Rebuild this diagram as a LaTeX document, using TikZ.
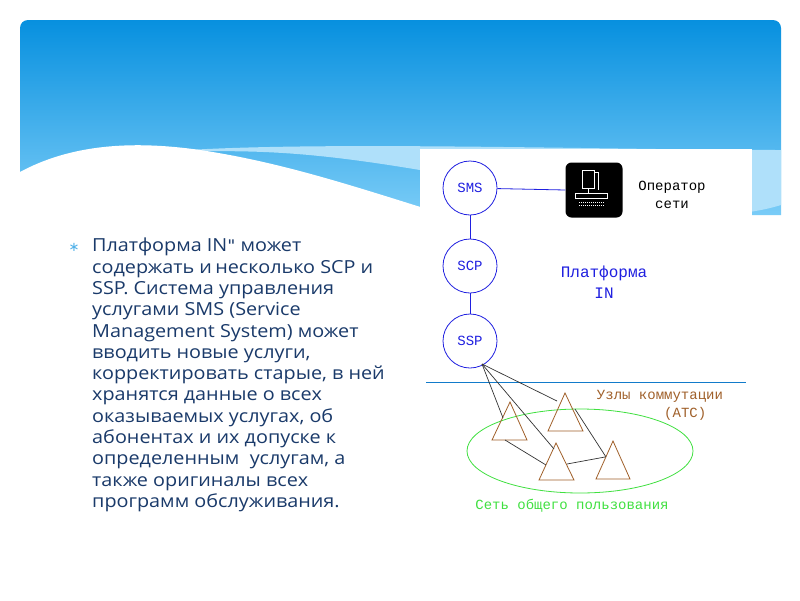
\documentclass[tikz,border=0pt]{standalone}
\usepackage{fontspec}
\setmainfont{Open Sans}
\newfontfamily\monof{Liberation Mono}
\newfontfamily\dejavu{DejaVu Sans}
\usetikzlibrary{calc}
\definecolor{navy}{HTML}{1A3A6A}
\definecolor{topb}{HTML}{0790DF}
\definecolor{botb}{HTML}{7ACCF7}
\definecolor{netblue}{HTML}{2020E0}
\definecolor{brownc}{HTML}{A0602A}
\definecolor{greenc}{HTML}{40E040}
\tikzset{
  el/.style={circle,draw=netblue,thick,minimum size=54pt,inner sep=0pt,font=\monof\fontsize{14}{14}\selectfont,text=netblue},
  tri/.style={draw=brownc,thick},
  wire/.style={draw=black!80,line width=0.7pt},
  mono/.style={font=\monof\fontsize{14}{18}\selectfont,align=center}
}
\begin{document}
\begin{tikzpicture}[x=1pt,y=-1pt]
\useasboundingbox (0,0) rectangle (800,600);
\fill[white] (0,0) rectangle (800,600);
% header
\shade[top color=topb,bottom color=botb] (20,28) [rounded corners=8pt] -- (20,20) -- (781,20) [sharp corners] -- (781,215) -- (20,215) -- cycle;
\fill[botb!60!white] (160,152) .. controls (300,140) and (600,150) .. (781,150) -- (781,205) .. controls (700,230) and (600,200) .. (420,170) .. controls (300,150) and (250,150) .. (160,152) -- cycle;
\fill[white] (20,172) .. controls (70,145) and (130,140) .. (200,150) .. controls (280,162) and (350,185) .. (430,210) -- (430,260) -- (20,260) -- cycle;
\fill[white] (420,149) rectangle (752,525);
% diagram
\node[el] (sms) at (470,188) {SMS};
\node[el] (scp) at (470,266) {SCP};
\node[el] (ssp) at (470,341) {SSP};
\node[fill=black,rounded corners=6pt,minimum width=57pt,minimum height=55pt] (op) at (594,190) {};
\begin{scope}[white,line width=1pt]
\draw (582,170) rectangle (594,188);
\draw (594,172) -- (598,172) -- (598,190);
\draw (575,193) -- (607,193) -- (607,198) -- (575,198) -- cycle;
\draw (588,188) -- (588,193);
\draw[dash pattern=on 1pt off 1pt] (579,202) -- (604,202);
\draw[dash pattern=on 1pt off 1pt] (579,205) -- (604,205);
\end{scope}
\draw[netblue,thick] (sms) -- (op.west);
\draw[netblue,thick] (sms) -- (scp);
\draw[netblue,thick] (scp) -- (ssp);
\node[mono] (optxt) at (672,195) {Оператор\\сети};
\node[mono,text=netblue,font=\monof\fontsize{16}{21}\selectfont] (plat) at (604,282) {Платформа\\IN};
\draw[color=cyan!60!blue,thick] (426,382) -- (746,382);
\node[mono,text=brownc,align=right] (uzl) at (660,405) {Узлы коммутации\\(АТС)\hspace*{1.2em}};
\draw[greenc,thick] (580,451) ellipse (113 and 42);
\node[mono,text=greenc] (set) at (572,506) {Сеть общего пользования};
\coordinate (a1) at (510,402); \coordinate (b1) at (492,440); \coordinate (c1) at (527,440);
\coordinate (a2) at (565,393); \coordinate (b2) at (548,431); \coordinate (c2) at (583,431);
\coordinate (a3) at (556,443); \coordinate (b3) at (539,480); \coordinate (c3) at (574,480);
\coordinate (a4) at (613,441); \coordinate (b4) at (596,479); \coordinate (c4) at (630,479);
\draw[tri] (a1)--(b1)--(c1)--cycle;
\draw[tri] (a2)--(b2)--(c2)--cycle;
\draw[tri] (a3)--(b3)--(c3)--cycle;
\draw[tri] (a4)--(b4)--(c4)--cycle;
\coordinate (s0) at (482,364);
\draw[wire] (s0) -- (503,418);
\draw[wire] (s0) -- (557,401);
\draw[wire] (s0) -- (554,449);
\draw[wire] (575,409) -- (606,457);
\draw[wire] (505,440) -- (546,465);
\draw[wire] (567,464) -- (605,457);
% text
\node[anchor=north west,align=left,text=navy,font=\fontsize{18}{21.3}\selectfont,inner sep=0pt,xscale=1.1,transform shape] (txt) at (92,238) {Платформа IN{\dejavu\fontsize{16}{20}\selectfont\char34} может\\содержать и\,несколько SCP и\\SSP. Система управления\\услугами SMS (Service\\Management System) может\\вводить новые услуги,\\корректировать старые, в ней\\хранятся данные о всех\\оказываемых услугах, об\\абонентах и их допуске к\\определенным\ \ услугам, а\\также оригиналы всех\\программ обслуживания.};
\node[text=topb!70,font=\dejavu\fontsize{13}{13}\selectfont] (bul) at (74,247) {∗};
\end{tikzpicture}
\end{document}
